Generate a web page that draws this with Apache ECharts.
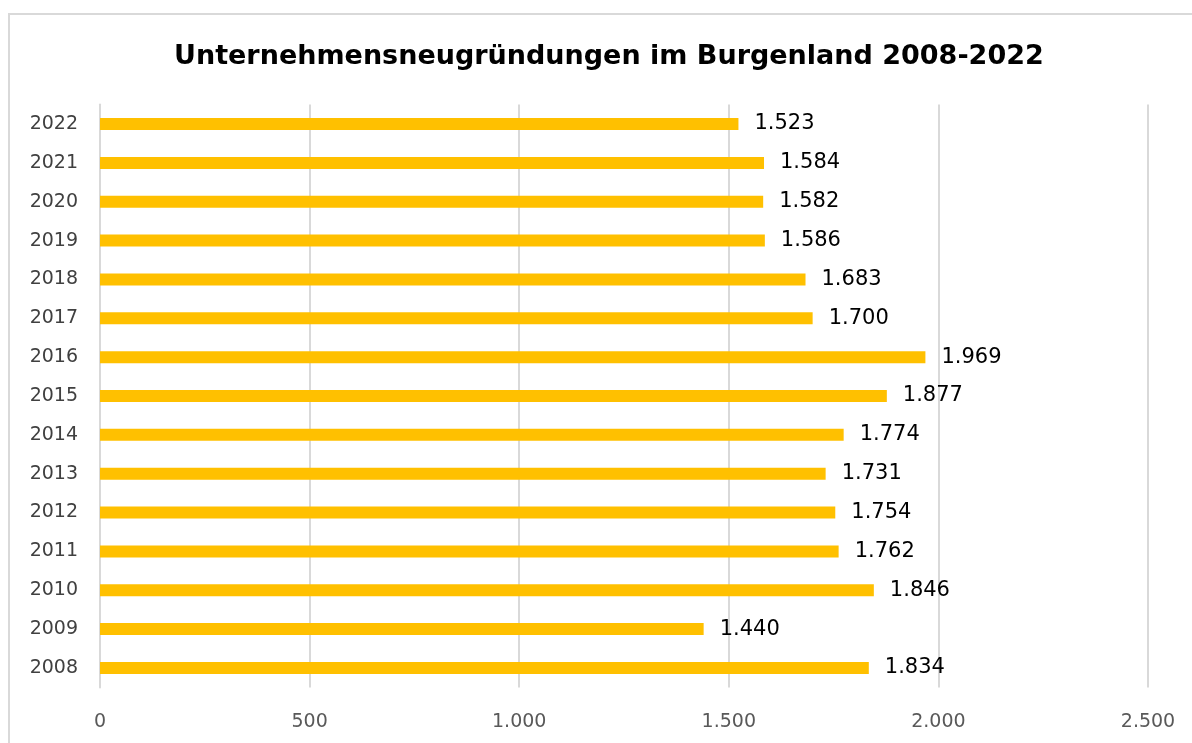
<!DOCTYPE html>
<html>
<head>
<meta charset="utf-8">
<script src="https://cdn.jsdelivr.net/npm/echarts@6/dist/echarts.min.js"></script>
<style>
html,body{margin:0;padding:0;background:#fff;}
#chart{width:1192px;height:743px;}
</style>
</head>
<body>
<div id="chart"></div>
<script>
const titleText = "Unternehmensneugründungen im Burgenland 2008-2022";
const years = ["2008","2009","2010","2011","2012","2013","2014","2015","2016","2017","2018","2019","2020","2021","2022"];
const values = [1834,1440,1846,1762,1754,1731,1774,1877,1969,1700,1683,1586,1582,1584,1523];
const axisMin = 0, axisMax = 2500, axisStep = 500;

function de(n){ return String(n).replace(/\B(?=(\d{3})+(?!\d))/g, "."); }

const chart = echarts.init(document.getElementById('chart'), null, {renderer:'canvas'});
chart.setOption({
  backgroundColor:'#ffffff',
  animation:false,
  graphic:[{
    type:'rect', silent:true, z:-1,
    shape:{x:9, y:14, width:1300, height:900},
    style:{fill:'none', stroke:'#d9d9d9', lineWidth:2}
  }],
  title:{
    text:titleText, left:174, top:43, padding:0,
    textStyle:{fontFamily:'DejaVu Sans', fontWeight:'bold', fontSize:27, color:'#000'}
  },
  grid:{left:100, right:44, top:104.6, bottom:55.6, containLabel:false},
  xAxis:{
    type:'value', min:axisMin, max:axisMax, interval:axisStep,
    axisLine:{show:false}, axisTick:{show:false},
    splitLine:{show:true, lineStyle:{color:'#d9d9d9', width:2}},
    axisLabel:{formatter:v=>de(v), fontFamily:'DejaVu Sans', fontSize:19, color:'#595959', margin:25}
  },
  yAxis:{
    type:'category', data:years,
    axisLine:{show:true, lineStyle:{color:'#d9d9d9', width:2}},
    axisTick:{show:false},
    axisLabel:{fontFamily:'DejaVu Sans', fontSize:19, color:'#404040', margin:22}
  },
  series:[{
    type:'bar', data:values, barWidth:12,
    itemStyle:{color:'#FFC000'},
    label:{show:true, position:'right', distance:16, formatter:p=>de(p.value),
      fontFamily:'DejaVu Sans', fontSize:21, color:'#000'}
  }]
});
</script>
</body>
</html>
